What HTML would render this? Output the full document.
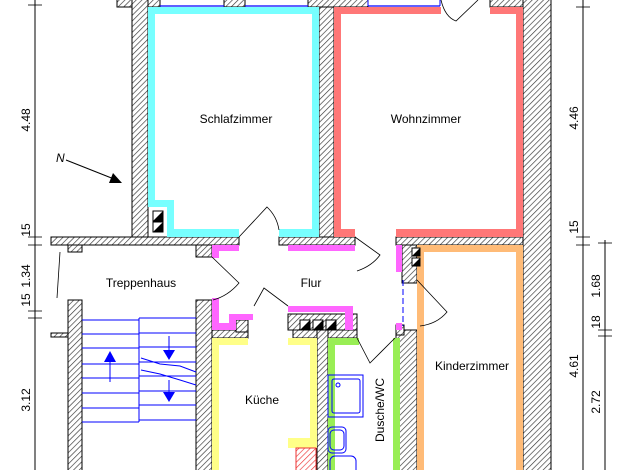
<!DOCTYPE html>
<html><head><meta charset="utf-8"><style>
html,body{margin:0;padding:0;background:#fff;width:626px;height:470px;overflow:hidden}
text{font-family:"Liberation Sans",sans-serif;font-size:12px;fill:#000}
</style></head><body>
<svg width="626" height="470" viewBox="0 0 626 470" xmlns="http://www.w3.org/2000/svg">
<defs>
<pattern id="h" width="4" height="4" patternUnits="userSpaceOnUse" patternTransform="rotate(45)">
<rect width="4" height="4" fill="#fff"/><line x1="0" y1="0" x2="0" y2="4" stroke="#333" stroke-width="1.3"/>
</pattern>
<pattern id="hr" width="4" height="4" patternUnits="userSpaceOnUse" patternTransform="rotate(45)">
<rect width="4" height="4" fill="#fff"/><line x1="0" y1="0" x2="0" y2="4" stroke="#e33" stroke-width="1.3"/>
</pattern>
</defs>
<g fill="url(#h)" stroke="#000" stroke-width="1">
<rect x="117" y="-1" width="43" height="8"/>
<rect x="224" y="-1" width="21" height="8"/>
<rect x="308" y="-1" width="60" height="8"/>
<rect x="490" y="-1" width="61" height="8"/>
<rect x="132" y="-1" width="16" height="246"/>
<rect x="319" y="7" width="15" height="238"/>
<rect x="523" y="-1" width="28" height="472"/>
<rect x="51" y="237" width="188" height="8"/>
<rect x="279" y="237" width="76" height="8"/>
<rect x="396" y="237" width="127" height="8"/>
<rect x="68" y="245" width="14" height="7"/>
<rect x="196" y="245" width="16" height="12"/>
<rect x="68" y="300" width="14" height="171"/>
<rect x="51" y="333" width="17" height="4"/>
<rect x="196" y="300" width="16" height="171"/>
<rect x="212" y="330" width="36" height="8"/>
<rect x="236" y="320" width="12" height="12"/>
<rect x="288" y="314" width="69" height="16"/>
<rect x="293" y="330" width="64" height="8"/>
<rect x="317" y="330" width="11" height="141"/>
<rect x="396" y="330" width="21" height="141"/>
<rect x="396" y="325" width="8" height="10"/>
<rect x="402" y="245" width="15" height="38"/>
</g>
<g stroke="#00f" stroke-width="1.2"><line x1="160" y1="6" x2="224" y2="6"/><line x1="245" y1="6" x2="308" y2="6"/><line x1="368" y1="6" x2="440" y2="6"/></g>
<line x1="368" y1="0" x2="368" y2="6" stroke="#00f"/><line x1="440" y1="0" x2="440" y2="6" stroke="#00f"/>
<g fill="#7ff">
<rect x="148" y="7" width="171" height="7"/><rect x="148" y="7" width="7" height="200"/><rect x="148" y="200" width="26" height="7"/>
<rect x="167" y="200" width="7" height="37"/><rect x="167" y="229" width="72" height="8"/><rect x="279" y="229" width="40" height="8"/><rect x="312" y="7" width="7" height="230"/>
</g>
<g fill="#f77">
<rect x="334" y="7" width="107" height="7"/><rect x="490" y="7" width="33" height="7"/><rect x="334" y="7" width="7" height="230"/><rect x="516" y="7" width="7" height="230"/>
<rect x="334" y="229" width="21" height="8"/><rect x="396" y="229" width="127" height="8"/>
</g>
<g fill="#f6f">
<rect x="212" y="245" width="27" height="6"/><rect x="288" y="245" width="67" height="6"/><rect x="212" y="245" width="7" height="13"/><rect x="212" y="298" width="7" height="32"/>
<rect x="212" y="323" width="24" height="7"/><rect x="236" y="314" width="17" height="6"/><rect x="229" y="314" width="7" height="16"/>
<rect x="288" y="306" width="64" height="6"/><rect x="345" y="306" width="8" height="24"/>
<rect x="396" y="245" width="6" height="27"/><rect x="396" y="323" width="6" height="7"/>
</g>
<g fill="#ff8"><rect x="212" y="338" width="7" height="133"/><rect x="212" y="338" width="36" height="7"/><rect x="288" y="338" width="29" height="7"/><rect x="310" y="338" width="7" height="110"/><rect x="288" y="438" width="29" height="10"/></g>
<rect x="296" y="448" width="20" height="23" fill="url(#hr)" stroke="#e33"/>
<g fill="#9e5"><rect x="328" y="338" width="7" height="133"/><rect x="328" y="338" width="31" height="7"/><rect x="393" y="338" width="7" height="133"/></g>
<g fill="#fb7"><rect x="417" y="245" width="7" height="226"/><rect x="417" y="245" width="106" height="7"/><rect x="516" y="245" width="7" height="226"/></g>
<g stroke="#000" fill="#fff">
<rect x="153" y="211" width="10" height="10"/><rect x="153" y="222" width="10" height="10"/>
<rect x="300" y="320" width="10" height="10"/><rect x="313" y="320" width="10" height="10"/><rect x="326" y="320" width="10" height="10"/>
<rect x="412" y="248" width="8" height="8"/><rect x="412" y="258" width="8" height="8"/>
</g>
<g fill="#000"><path d="M163 211 L163 221 L153 221Z"/><path d="M163 222 L163 232 L153 232Z"/><path d="M310 320 L310 330 L300 330Z"/><path d="M323 320 L323 330 L313 330Z"/><path d="M336 320 L336 330 L326 330Z"/><path d="M420 248 L420 256 L412 256Z"/><path d="M420 258 L420 266 L412 266Z"/></g>
<g fill="none" stroke="#000" stroke-width="0.8">
<path d="M239 237 L267 207 A40 40 0 0 1 279 230"/>
<path d="M441 0 Q445 17 456 21 L478 0"/>
<path d="M212 257 L239 283 Q228 296 213 300 M60 252 L57 298"/>
<path d="M288 306 L264 288 L254 306"/>
<path d="M355 237 L380 255 Q372 266 357 271"/>
<path d="M417 280 L447 312 Q437 324 420 326"/>
<path d="M357 338 L370 363 L395 338"/>
</g>
<line x1="403" y1="280" x2="403" y2="326" stroke="#00f" stroke-dasharray="6,3"/>
<g stroke="#00f" stroke-width="1">
<line x1="82" y1="320" x2="139" y2="320"/><line x1="82" y1="334" x2="139" y2="334"/><line x1="82" y1="348" x2="139" y2="348"/><line x1="82" y1="364" x2="139" y2="364"/><line x1="82" y1="378" x2="139" y2="378"/><line x1="82" y1="393" x2="139" y2="393"/><line x1="82" y1="408" x2="139" y2="408"/><line x1="82" y1="422" x2="139" y2="422"/>
<line x1="139" y1="318" x2="196" y2="318"/><line x1="139" y1="333" x2="196" y2="333"/><line x1="139" y1="347" x2="196" y2="347"/><line x1="139" y1="362" x2="196" y2="362"/><line x1="139" y1="376" x2="196" y2="376"/><line x1="139" y1="391" x2="196" y2="391"/><line x1="139" y1="405" x2="196" y2="405"/><line x1="139" y1="420" x2="196" y2="420"/>
<line x1="139" y1="318" x2="139" y2="422"/>
<line x1="110" y1="382" x2="110" y2="360"/><line x1="169" y1="336" x2="169" y2="352"/><line x1="169" y1="380" x2="169" y2="394"/>
<path d="M141 358 L160 364 L180 366 L196 372 M141 370 L160 374 L180 380 L196 385" fill="none"/>
</g>
<g fill="#00f"><path d="M104 362 L116 362 L110 351Z"/><path d="M163 350 L175 350 L169 360Z"/><path d="M163 392 L175 392 L169 402Z"/></g>
<g stroke="#00f" fill="none"><rect x="328" y="375" width="35" height="42"/><rect x="332" y="379" width="28" height="34" rx="2"/><circle cx="338" cy="385" r="2"/><rect x="328" y="427" width="18" height="26" rx="4"/><rect x="330" y="430" width="14" height="20" rx="4"/><rect x="330" y="456" width="26" height="20" rx="5"/></g>
<line x1="66" y1="160" x2="114" y2="179" stroke="#000"/><path d="M122 183 L109 183 L113 173Z"/>
<text x="56" y="162" font-size="8" font-style="italic">N</text>
<g stroke="#000" stroke-width="1">
<line x1="35" y1="0" x2="35" y2="470"/><line x1="583" y1="0" x2="583" y2="470"/><line x1="605" y1="240" x2="605" y2="470"/>
<g stroke-width="0.8">
<line x1="28" y1="5" x2="42" y2="5"/><line x1="28" y1="237" x2="42" y2="237"/><line x1="28" y1="245" x2="42" y2="245"/><line x1="28" y1="311" x2="42" y2="311"/><line x1="28" y1="318" x2="42" y2="318"/>
<line x1="576" y1="7" x2="590" y2="7"/><line x1="576" y1="237" x2="590" y2="237"/><line x1="576" y1="245" x2="590" y2="245"/>
<line x1="598" y1="243" x2="612" y2="243"/><line x1="598" y1="330" x2="612" y2="330"/><line x1="598" y1="336" x2="612" y2="336"/>
</g></g>
<g font-size="12">
<text transform="translate(30,120) rotate(-90)" text-anchor="middle">4.48</text>
<text transform="translate(30,230) rotate(-90)" text-anchor="middle">15</text>
<text transform="translate(30,276) rotate(-90)" text-anchor="middle">1.34</text>
<text transform="translate(30,300) rotate(-90)" text-anchor="middle">15</text>
<text transform="translate(30,400) rotate(-90)" text-anchor="middle">3.12</text>
<text transform="translate(578,118) rotate(-90)" text-anchor="middle">4.46</text>
<text transform="translate(578,227) rotate(-90)" text-anchor="middle">15</text>
<text transform="translate(578,366) rotate(-90)" text-anchor="middle">4.61</text>
<text transform="translate(600,286) rotate(-90)" text-anchor="middle">1.68</text>
<text transform="translate(600,322) rotate(-90)" text-anchor="middle">18</text>
<text transform="translate(600,402) rotate(-90)" text-anchor="middle">2.72</text>
</g>
<text x="236" y="123" text-anchor="middle">Schlafzimmer</text>
<text x="426" y="123" text-anchor="middle">Wohnzimmer</text>
<text x="141" y="287" text-anchor="middle">Treppenhaus</text>
<text x="311" y="287" text-anchor="middle">Flur</text>
<text x="262" y="404" text-anchor="middle">Küche</text>
<text x="472" y="370" text-anchor="middle">Kinderzimmer</text>
<text transform="translate(384,410) rotate(-90)" text-anchor="middle">Dusche/WC</text>
</svg>
</body></html>
